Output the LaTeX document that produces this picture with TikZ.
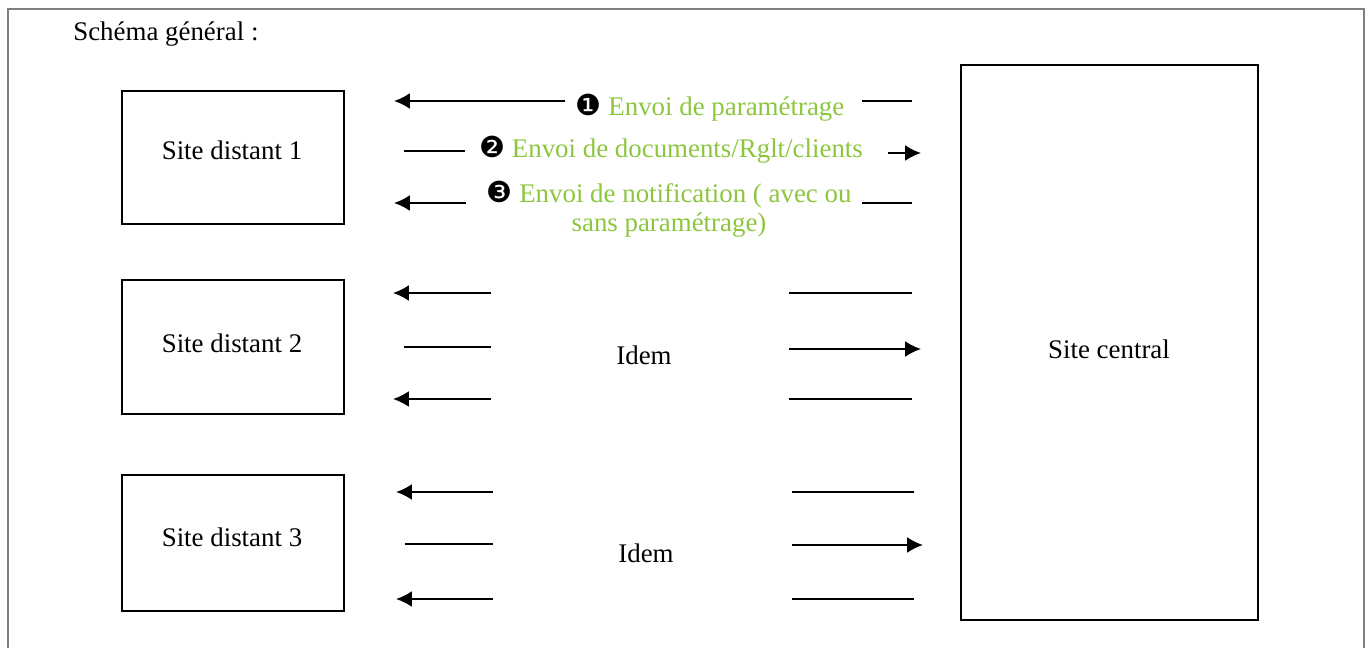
\documentclass[tikz,border=0pt]{standalone}
\usepackage{fontspec}
\setmainfont{Liberation Serif}
\newfontfamily\dingfont{DejaVu Sans}
\usetikzlibrary{arrows.meta}
\definecolor{vertclair}{HTML}{8CC63E}
\newcommand{\pastille}[1]{{\dingfont\fontsize{16.5}{17}\selectfont\color{black}#1}}

\begin{document}
\begin{tikzpicture}[x=0.02cm, y=-0.02cm,
    font=\fontsize{15.3}{17}\selectfont,
    site/.style ={rectangle, draw, line width=1.1pt},
    envoi/.style ={text=vertclair, anchor=base, align=center, inner sep=0pt},
    aller/.style ={line width=1.1pt},
    retour/.style ={line width=1.1pt, -{Latex[length=9pt, width=9pt]}}]
   \useasboundingbox (0,0) rectangle (1369,648);
   \draw[gray, line width=1.2pt] (8,648) -- (8,9) -- (1364,9) -- (1364,648);
   \node[anchor=base west, inner sep=0pt] (titre) at (73,41) {Schéma général :};
   % sites
   \node[site, minimum width=4.44cm, minimum height=2.66cm] (S1) at (233,157.5) {};
   \node[site, minimum width=4.44cm, minimum height=2.68cm] (S2) at (233,347) {};
   \node[site, minimum width=4.44cm, minimum height=2.72cm] (S3) at (233,543) {};
   \node[site, minimum width=5.94cm, minimum height=11.1cm] (C) at (1109.5,342.5) {};
   \node[anchor=base] (tS1) at (232,160) {Site distant 1};
   \node[anchor=base] (tS2) at (232,353) {Site distant 2};
   \node[anchor=base] (tS3) at (232,546) {Site distant 3};
   \node[anchor=base] (tC) at (1109,358) {Site central};
   % envois
   \node[envoi] (E1) at (710,116) {\pastille{❶} Envoi de paramétrage};
   \node[envoi] (E2) at (671,158) {\pastille{❷} Envoi de documents/Rglt/clients};
   \node[envoi] (E3) at (669,232) {\pastille{❸} Envoi de notification ( avec ou\\ sans paramétrage)};
   \node[anchor=base] (I2) at (644,365) {Idem};
   \node[anchor=base] (I3) at (646,562) {Idem};
   % site distant 1
   \coordinate (a1) at (565,101);  \coordinate (a1g) at (394,101);
   \coordinate (a1d) at (862,101); \coordinate (a1f) at (912,101);
   \coordinate (b1) at (404,151);  \coordinate (b1g) at (465,151);
   \coordinate (b1d) at (888,153); \coordinate (b1f) at (921,153);
   \coordinate (c1) at (466,203);  \coordinate (c1g) at (394,203);
   \coordinate (c1d) at (862,203); \coordinate (c1f) at (912,203);
   \draw[retour] (a1) -- (a1g);
   \draw[aller] (a1d) -- (a1f);
   \draw[aller] (b1) -- (b1g);
   \draw[retour] (b1d) -- (b1f);
   \draw[retour] (c1) -- (c1g);
   \draw[aller] (c1d) -- (c1f);
   % site distant 2
   \coordinate (a2) at (491,293);  \coordinate (a2g) at (393,293);
   \coordinate (a2d) at (789,293); \coordinate (a2f) at (912,293);
   \coordinate (b2) at (404,347);  \coordinate (b2g) at (491,347);
   \coordinate (b2d) at (789,349); \coordinate (b2f) at (921,349);
   \coordinate (c2) at (491,399);  \coordinate (c2g) at (393,399);
   \coordinate (c2d) at (789,399); \coordinate (c2f) at (912,399);
   \draw[retour] (a2) -- (a2g);
   \draw[aller] (a2d) -- (a2f);
   \draw[aller] (b2) -- (b2g);
   \draw[retour] (b2d) -- (b2f);
   \draw[retour] (c2) -- (c2g);
   \draw[aller] (c2d) -- (c2f);
   % site distant 3
   \coordinate (a3) at (493,492);  \coordinate (a3g) at (396,492);
   \coordinate (a3d) at (792,492); \coordinate (a3f) at (914,492);
   \coordinate (b3) at (405,544);  \coordinate (b3g) at (493,544);
   \coordinate (b3d) at (792,545); \coordinate (b3f) at (923,545);
   \coordinate (c3) at (493,599);  \coordinate (c3g) at (396,599);
   \coordinate (c3d) at (792,599); \coordinate (c3f) at (914,599);
   \draw[retour] (a3) -- (a3g);
   \draw[aller] (a3d) -- (a3f);
   \draw[aller] (b3) -- (b3g);
   \draw[retour] (b3d) -- (b3f);
   \draw[retour] (c3) -- (c3g);
   \draw[aller] (c3d) -- (c3f);
 \end{tikzpicture}
\end{document}
